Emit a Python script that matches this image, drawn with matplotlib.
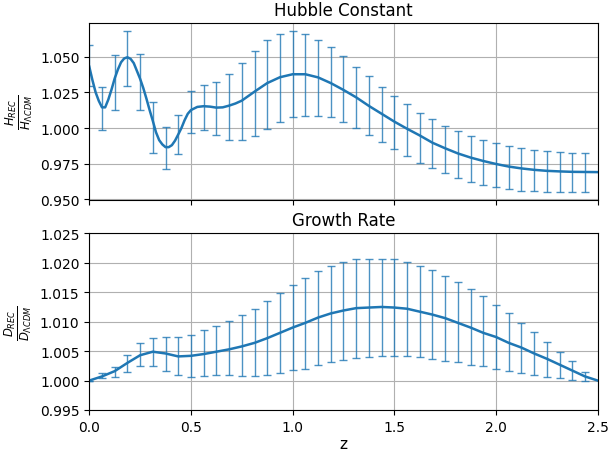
import numpy as np
import matplotlib
matplotlib.use('Agg')
import matplotlib.pyplot as plt

# Reconstructed curves
z_h = [0.0, 0.015625, 0.03125, 0.046875, 0.0625, 0.078125, 0.09375, 0.109375,
       0.125, 0.140625, 0.15625, 0.171875, 0.1875, 0.203125, 0.21875, 0.234375,
       0.25, 0.265625, 0.28125, 0.296875, 0.3125, 0.328125, 0.34375, 0.359375,
       0.375, 0.390625, 0.40625, 0.421875, 0.4375, 0.453125, 0.46875, 0.484375,
       0.5, 0.53125, 0.5625, 0.59375, 0.625, 0.65625, 0.6875, 0.71875, 0.75,
       0.8125, 0.875, 0.9375, 1.0, 1.0625, 1.125, 1.1875, 1.25, 1.3125,
       1.375, 1.4375, 1.5, 1.5625, 1.625, 1.6875, 1.75, 1.8125, 1.875,
       1.9375, 2.0, 2.0625, 2.125, 2.1875, 2.25, 2.3125, 2.375, 2.4375, 2.5]
h_ratio = [1.0430, 1.0335, 1.0250, 1.0190, 1.0145, 1.0145, 1.0200, 1.0270,
           1.0348, 1.0410, 1.0461, 1.0488, 1.0496, 1.0485, 1.0455, 1.0400,
           1.0345, 1.0280, 1.0205, 1.0125, 1.0050, 0.9970, 0.9915, 0.9885,
           0.9866, 0.9866, 0.9880, 0.9912, 0.9955, 1.0000, 1.0055, 1.0100,
           1.0126, 1.0148, 1.0153, 1.0150, 1.0143, 1.0145, 1.0157, 1.0172, 1.0192,
           1.0255, 1.0315, 1.0356, 1.0377, 1.0377, 1.0355, 1.0315, 1.0267, 1.0215,
           1.0155, 1.0100, 1.0045, 0.9995, 0.9948, 0.9897, 0.9858, 0.9822, 0.9793,
           0.9769, 0.9748, 0.9730, 0.9717, 0.9707, 0.9700, 0.9696, 0.9693, 0.9692, 0.9691]

z_d = [0.0, 0.0625, 0.125, 0.1875, 0.25, 0.3125, 0.375, 0.4375, 0.5, 0.5625,
       0.625, 0.6875, 0.75, 0.8125, 0.875, 0.9375, 1.0, 1.0625, 1.125, 1.1875,
       1.25, 1.3125, 1.375, 1.4375, 1.5, 1.5625, 1.625, 1.6875, 1.75, 1.8125,
       1.875, 1.9375, 2.0, 2.0625, 2.125, 2.1875, 2.25, 2.3125, 2.375, 2.4375, 2.5]
d_ratio = [1.0000, 1.0007, 1.0016, 1.0030, 1.0043, 1.0049, 1.0046, 1.0041, 1.0042, 1.0045,
           1.0049, 1.0053, 1.0058, 1.0064, 1.0072, 1.0081, 1.0090, 1.0098, 1.0107, 1.0114,
           1.0119, 1.0123, 1.0124, 1.0125, 1.0124, 1.0122, 1.0117, 1.0112, 1.0106, 1.0098,
           1.0090, 1.0081, 1.0074, 1.0064, 1.0056, 1.0046, 1.0037, 1.0027, 1.0017, 1.0007, 1.0000]

# Error bars (lower / upper ends)
z_eb = [0.0, 0.0625, 0.125, 0.1875, 0.25, 0.3125, 0.375, 0.4375, 0.5, 0.5625,
        0.625, 0.6875, 0.75, 0.8125, 0.875, 0.9375, 1.0, 1.0625, 1.125, 1.1875,
        1.25, 1.3125, 1.375, 1.4375, 1.5, 1.5625, 1.625, 1.6875, 1.75, 1.8125,
        1.875, 1.9375, 2.0, 2.0625, 2.125, 2.1875, 2.25, 2.3125, 2.375, 2.4375]
h_lo = [1.0297, 0.9986, 1.0129, 1.0297, 1.0129, 0.9822, 0.9714, 0.9817, 0.9965, 0.9986,
        0.9951, 0.9918, 0.9918, 0.9944, 0.9993, 1.0040, 1.0075, 1.0087, 1.0087, 1.0075,
        1.0040, 1.0000, 0.9951, 0.9904, 0.9853, 0.9806, 0.9754, 0.9717, 0.9682, 0.9647,
        0.9621, 0.9602, 0.9588, 0.9574, 0.9560, 0.9560, 0.9553, 0.9553, 0.9553, 0.9553]
h_hi = [1.0583, 1.0290, 1.0513, 1.0677, 1.0522, 1.0180, 1.0005, 1.0091, 1.0262, 1.0302,
        1.0325, 1.0377, 1.0459, 1.0538, 1.0616, 1.0660, 1.0677, 1.0660, 1.0620, 1.0566,
        1.0508, 1.0431, 1.0363, 1.0290, 1.0227, 1.0166, 1.0108, 1.0061, 1.0016, 0.9977,
        0.9944, 0.9918, 0.9892, 0.9876, 0.9860, 0.9843, 0.9836, 0.9829, 0.9822, 0.9822]
d_lo = [1.0000, 1.00045, 1.0006, 1.0014, 1.0024, 1.0024, 1.0016, 1.0010, 1.0006, 1.0007,
        1.0010, 1.0010, 1.0007, 1.0007, 1.0010, 1.0013, 1.0018, 1.0020, 1.0026, 1.0031,
        1.0035, 1.0039, 1.0040, 1.0041, 1.0042, 1.0042, 1.0040, 1.0036, 1.0034, 1.0031,
        1.0027, 1.0024, 1.0019, 1.0016, 1.0013, 1.0010, 1.0006, 1.0004, 1.0001, 0.99995]
d_hi = [1.0000, 1.0012, 1.0023, 1.0043, 1.0063, 1.0073, 1.0074, 1.0074, 1.0078, 1.0086,
        1.0093, 1.0101, 1.0111, 1.0122, 1.0135, 1.0148, 1.0162, 1.0175, 1.0186, 1.0194,
        1.0201, 1.0206, 1.0207, 1.0207, 1.0206, 1.0201, 1.0194, 1.0188, 1.0178, 1.0167,
        1.0155, 1.0143, 1.0129, 1.0114, 1.0098, 1.0083, 1.0066, 1.0049, 1.0033, 1.0015]


def errbars(ax, z, lo, hi):
    lo, hi = np.array(lo), np.array(hi)
    mid = (lo + hi) / 2
    ax.errorbar(z, mid, yerr=(hi - lo) / 2, fmt='none', ecolor='C0',
                elinewidth=1, capsize=3, alpha=0.8)


fig, ax = plt.subplots(2, 1, sharex=True, figsize=(6.09, 4.56), dpi=100)
plt.subplots_adjust(left=0.1466, right=0.9814, top=0.947, bottom=0.0987, hspace=0.19)

#Hubble:
ax[0].plot(z_h, h_ratio, color='C0', lw=1.8)
errbars(ax[0], z_eb, h_lo, h_hi)
ax[0].set_title('Hubble Constant')
ax[0].set_ylabel(r'$\frac{H_{REC}}{H_{\Lambda CDM}}$', fontsize=12)
ax[0].set_ylim(0.9497, 1.0735)
ax[0].set_yticks([0.950, 0.975, 1.000, 1.025, 1.050])
ax[0].grid()

#Growth:
ax[1].plot(z_d, d_ratio, color='C0', lw=1.8)
errbars(ax[1], z_eb, d_lo, d_hi)
ax[1].set_title('Growth Rate')
ax[1].set_ylabel(r'$\frac{D_{REC}}{D_{\Lambda CDM}}$', fontsize=12)
ax[1].set_ylim(0.995, 1.025)
ax[1].set_xlim(0, 2.5)
ax[1].set_xlabel('z', fontsize=11, labelpad=2)
ax[1].grid()

fig.savefig('out.png', dpi=100)
